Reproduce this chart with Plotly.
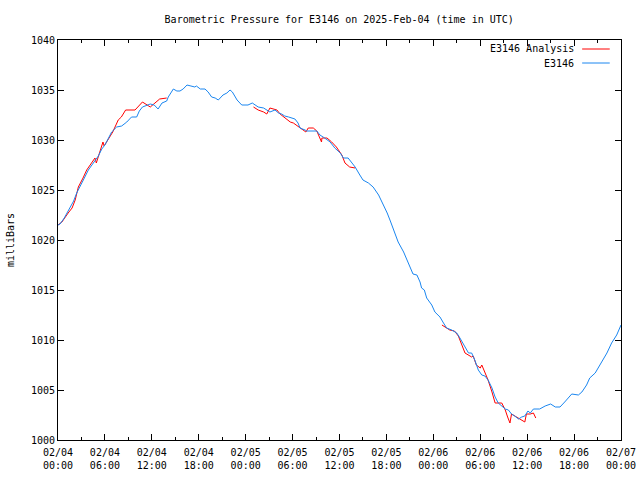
import pandas as pd
import plotly.graph_objects as go

# ---- data (hours after 2025-02-04 00:00 UTC, pressure in mb) ----
obs_hours = [0.0, 0.26, 0.8, 1.53, 2.0, 2.39, 2.8, 3.24, 3.88, 4.5, 5.16, 5.6, 6.0, 6.4, 6.86,
             7.5, 8.14, 8.8, 9.4, 10.06, 10.4, 10.8, 11.8, 12.3, 12.8, 13.3, 13.9, 14.1, 14.75,
             15.2, 15.6, 16.0, 16.5, 17.0, 17.5, 17.7, 18.2, 18.8, 19.2, 19.65, 20.1, 20.5, 21.1,
             21.6, 22.0, 22.3, 22.9, 23.5, 24.3, 24.85, 25.6, 26.3, 26.7, 27.1, 27.75, 28.2, 28.6,
             29.0, 29.5, 30.3, 30.7, 30.95, 31.6, 31.8, 33.1, 33.5, 34.1, 34.8, 35.4, 36.1, 36.5,
             37.1, 37.6, 38.0, 38.6, 39.0, 39.7, 40.3, 41.0, 41.6, 42.1, 42.5, 42.9, 43.5, 44.2,
             44.6, 45.2, 45.4, 45.9, 46.3, 46.5, 46.85, 47.15, 47.8, 48.2, 48.85, 49.3, 49.7,
             50.35, 51.0, 51.4, 52.05, 52.5, 52.9, 53.3, 53.75, 54.2, 54.6, 55.0, 55.5, 55.9,
             56.3, 56.8, 57.2, 57.6, 58.0, 58.4, 58.9, 59.3, 59.7, 60.1, 60.4, 60.8, 61.2, 61.6,
             62.3, 63.0, 63.6, 64.2, 64.8, 65.3, 65.7, 66.55, 67.0, 67.6, 68.0, 68.7, 69.3, 70.2,
             70.8, 71.45, 72.0]
obs_mb = [1021.5, 1021.6, 1022.2, 1023.2, 1023.9, 1024.7, 1025.4, 1026.0, 1027.0, 1027.7, 1028.4,
          1029.1, 1029.5, 1030.1, 1030.8, 1031.3, 1031.4, 1031.8, 1032.3, 1032.3, 1032.9, 1033.3,
          1033.6, 1033.5, 1033.1, 1033.7, 1033.9, 1034.3, 1035.1, 1034.9, 1034.9, 1035.1, 1035.5,
          1035.4, 1035.3, 1035.4, 1035.1, 1035.1, 1034.8, 1034.3, 1034.2, 1034.0, 1034.5, 1034.7,
          1035.0, 1034.8, 1034.0, 1033.5, 1033.5, 1033.7, 1033.3, 1033.2, 1033.0, 1032.8, 1033.0,
          1032.7, 1032.6, 1032.4, 1032.3, 1032.1, 1031.7, 1031.2, 1031.0, 1030.9, 1030.9, 1030.5,
          1030.2, 1029.8, 1029.2, 1028.7, 1028.2, 1028.2, 1027.7, 1027.3, 1026.5, 1026.0, 1025.7,
          1025.3, 1024.5, 1023.6, 1022.7, 1021.9, 1021.0, 1019.8, 1018.8, 1018.0, 1017.0, 1016.6,
          1016.5, 1015.8, 1015.2, 1015.0, 1014.2, 1013.5, 1012.8, 1012.3, 1011.7, 1011.2, 1011.0,
          1010.7, 1010.2, 1009.3, 1008.7, 1008.7, 1008.0, 1007.0, 1006.5, 1006.4, 1006.0, 1005.2,
          1004.3, 1003.7, 1003.4, 1003.1, 1003.0, 1002.6, 1002.4, 1002.1, 1002.3, 1002.4, 1002.9,
          1002.7, 1003.1, 1003.1, 1003.1, 1003.4, 1003.6, 1003.3, 1003.3, 1003.8, 1004.3, 1004.6,
          1004.5, 1004.8, 1005.5, 1006.2, 1006.7, 1007.5, 1008.7, 1009.7, 1010.5, 1011.5]

ana_hours = [0.0, 0.5, 1.3, 1.8, 2.2, 2.6, 3.2, 3.67, 4.2, 4.73, 4.9, 5.3, 5.6, 5.75, 5.9, 6.4,
             7.0, 7.7, 8.1, 8.65, 9.2, 9.85, 10.8, 11.8, 12.4, 13.0, 13.9, None,
             25.0, 25.6, 26.3, 26.7, 27.1, 27.5, 28.0, 28.4, 29.0, 29.7, 30.1, 30.95, 31.7,
             32.0, 32.65, 33.1, 33.4, 33.7, 33.75, 34.4, 35.0, 35.6, 36.3, 36.7, 37.3, 38.0, None,
             49.1, 50.1, 50.7, 51.2, 51.4, 52.05, 52.9, 53.1, 53.5, 54.0, 54.2, 54.6, 55.0,
             55.5, 55.9, 56.75, 57.2, 57.5, 57.8, 58.0, 58.65, 59.3, 59.7, 59.9, 60.4, 60.8, 61.1]
ana_mb = [1021.5, 1021.8, 1022.7, 1023.2, 1024.0, 1025.3, 1026.2, 1027.0, 1027.6, 1028.2, 1027.7,
          1028.6, 1029.5, 1029.8, 1029.4, 1030.1, 1030.8, 1032.0, 1032.3, 1033.0, 1033.0, 1033.0,
          1033.8, 1033.3, 1033.7, 1034.1, 1034.2, None,
          1033.3, 1033.0, 1032.8, 1032.6, 1033.2, 1033.1, 1033.0, 1032.6, 1032.2, 1031.8, 1031.7,
          1031.2, 1030.8, 1031.2, 1031.2, 1030.9, 1030.3, 1029.8, 1030.2, 1030.2, 1029.8, 1029.3,
          1028.5, 1027.7, 1027.3, 1027.2, None,
          1011.5, 1011.0, 1010.9, 1010.4, 1010.0, 1008.7, 1008.3, 1008.4, 1007.5, 1007.2, 1007.5,
          1006.8, 1006.0, 1004.8, 1003.7, 1003.7, 1003.0, 1002.3, 1001.7, 1002.6, 1002.3, 1002.0,
          1001.8, 1002.6, 1002.6, 1002.7, 1002.2]

tick_hours = [0, 6, 12, 18, 24, 30, 36, 42, 48, 54, 60, 66, 72]
tick_labels = ["02/04<br>00:00", "02/04<br>06:00", "02/04<br>12:00", "02/04<br>18:00",
               "02/05<br>00:00", "02/05<br>06:00", "02/05<br>12:00", "02/05<br>18:00",
               "02/06<br>00:00", "02/06<br>06:00", "02/06<br>12:00", "02/06<br>18:00",
               "02/07<br>00:00"]
y_ticks = [1000, 1005, 1010, 1015, 1020, 1025, 1030, 1035, 1040]

start = pd.Timestamp("2025-02-04 00:00")


def to_time(hs):
    return [None if h is None else start + pd.Timedelta(hours=h) for h in hs]


FONT = "DejaVu Sans Mono"
RED = "#ff0000"
BLUE = "#1a86f0"

fig = go.Figure()
fig.add_trace(go.Scatter(x=to_time(ana_hours), y=ana_mb, mode="lines", name="E3146 Analysis",
                         line=dict(color=RED, width=1), connectgaps=False))
fig.add_trace(go.Scatter(x=to_time(obs_hours), y=obs_mb, mode="lines", name="E3146",
                         line=dict(color=BLUE, width=1)))

fig.update_layout(
    width=640, height=480,
    margin=dict(l=58, r=19, t=40, b=40),
    paper_bgcolor="white", plot_bgcolor="white",
    showlegend=False,
    font=dict(family=FONT, size=10, color="black"),
    title=dict(text="Barometric Pressure for E3146 on 2025-Feb-04 (time in UTC)",
               x=0.53, xanchor="center", y=1 - 19 / 480, yanchor="middle", yref="container",
               font=dict(family=FONT, size=10, color="black")),
    xaxis=dict(
        range=[start, start + pd.Timedelta(hours=72)],
        tickmode="array", tickvals=to_time(tick_hours), ticktext=tick_labels,
        ticks="inside", ticklen=6, tickcolor="black", tickwidth=1, ticklabelstandoff=3,
        minor=dict(dtick=3 * 3600 * 1000, ticks="inside", ticklen=3, tickcolor="black", showgrid=False),
        showline=True, linecolor="black", linewidth=1, mirror="allticks",
        showgrid=False, zeroline=False, automargin=False,
        tickfont=dict(family=FONT, size=10, color="black"),
    ),
    yaxis=dict(
        range=[1000, 1040], tickmode="array", tickvals=y_ticks,
        ticks="inside", ticklen=6, tickcolor="black", tickwidth=1,
        showline=True, linecolor="black", linewidth=1, mirror="allticks",
        showgrid=False, zeroline=False, automargin=False,
        title=dict(text="milliBars", standoff=14, font=dict(family=FONT, size=10, color="black")),
        tickfont=dict(family=FONT, size=10, color="black"),
    ),
)

# gnuplot-style key (text on the left, line sample on the right)
key_names = ["E3146 Analysis", "E3146"]
key_colors = [RED, BLUE]
for i, (nm, col) in enumerate(zip(key_names, key_colors)):
    yp = 0.9775 - i * 0.035
    fig.add_annotation(x=0.92, y=yp, xref="paper", yref="paper", text=nm, showarrow=False,
                       xanchor="right", yanchor="middle",
                       font=dict(family=FONT, size=10, color="black"))
    fig.add_shape(type="line", xref="paper", yref="paper", x0=0.931, x1=0.98, y0=yp, y1=yp,
                  line=dict(color=col, width=1))

fig.write_html("out.html", config={"displayModeBar": False},
               post_script="document.body.style.margin='0';document.body.style.overflow='hidden';")
